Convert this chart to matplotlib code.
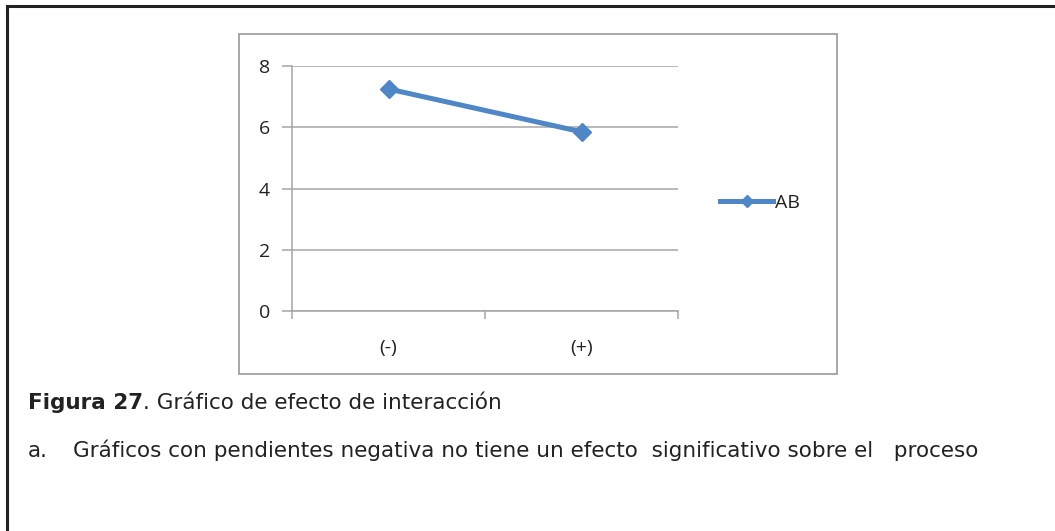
import matplotlib.pyplot as plt
from matplotlib.lines import Line2D
from matplotlib.patches import Rectangle

categories = ['(-)', '(+)']
ab_values = [7.25, 5.85]
series_name = 'AB'
y_ticks = [0, 2, 4, 6, 8]

caption_bold = 'Figura 27'
caption_rest = '. Gráfico de efecto de interacción'
note_label = 'a.'
note_text = 'Gráficos con pendientes negativa no tiene un efecto  significativo sobre el   proceso'

W, H = 1055, 531
blue = '#4F86C6'
grid_gray = '#A6A6A6'
txt = '#222222'

fig = plt.figure(figsize=(W / 100, H / 100), dpi=100)


def fx(px):
    return px / W


def fy(py):
    return 1 - py / H


# page border, only top and left are visible
fig.add_artist(Line2D([fx(7), 1], [fy(6), fy(6)], color=txt, lw=2.2))
fig.add_artist(Line2D([fx(7), fx(7)], [fy(6), 0], color=txt, lw=2.2))

# chart frame
fig.add_artist(Rectangle((fx(239), fy(374)), fx(837) - fx(239), fy(34) - fy(374),
                         transform=fig.transFigure, fill=False,
                         edgecolor='#A0A0A0', lw=1.3))

ax = fig.add_axes([fx(292), fy(311), fx(678) - fx(292), fy(66) - fy(311)])
x = list(range(len(categories)))
ax.plot(x, ab_values, color=blue, lw=3.6, marker='D', markersize=9.5,
        markeredgecolor=blue)

ax.set_xlim(-0.5, len(categories) - 0.5)
ax.set_ylim(0, 8)
ax.set_yticks(y_ticks)
ax.set_yticklabels([str(v) for v in y_ticks])
ax.yaxis.grid(True, color=grid_gray, lw=1.1)
ax.set_axisbelow(True)

ax.set_xticks(x)
ax.set_xticklabels(categories)
ax.set_xticks([-0.5, 0.5, 1.5], minor=True)
ax.tick_params(axis='x', which='major', length=0, pad=20, labelsize=14,
               labelcolor=txt)
ax.tick_params(axis='x', which='minor', length=6, color=grid_gray, width=1.1)
ax.tick_params(axis='y', length=7, color=grid_gray, width=1.1, pad=9,
               labelsize=14, labelcolor=txt)
for lbl in ax.get_xticklabels() + ax.get_yticklabels():
    lbl.set_family('Open Sans')

for s in ['top', 'right']:
    ax.spines[s].set_visible(False)
for s in ['left', 'bottom']:
    ax.spines[s].set_color(grid_gray)
    ax.spines[s].set_linewidth(1.1)

handle = Line2D([], [], color=blue, lw=3.6, marker='D', markersize=6.5,
                markeredgecolor=blue)
leg = fig.legend([handle], [series_name], loc='center left',
                 bbox_to_anchor=(fx(720), fy(203)), frameon=False,
                 borderpad=0, borderaxespad=0,
                 handlelength=2.75, handletextpad=0.1,
                 prop={'family': 'Open Sans', 'size': 14})
for t in leg.get_texts():
    t.set_color(txt)

# caption below the chart
t1 = fig.text(fx(28), fy(409), caption_bold, fontsize=15.5, fontweight='bold',
              family='DejaVu Sans', color=txt, va='baseline')
fig.add_artist(plt.Annotation(caption_rest, xy=(1, 0), xycoords=t1,
                              va='bottom', fontsize=15.5, family='DejaVu Sans',
                              color=txt, annotation_clip=False))
fig.text(fx(28), fy(457), note_label, fontsize=15.5, family='DejaVu Sans',
         color=txt, va='baseline')
fig.text(fx(73), fy(457), note_text, fontsize=15.5, family='DejaVu Sans',
         color=txt, va='baseline')

fig.savefig('out.png', dpi=100)
